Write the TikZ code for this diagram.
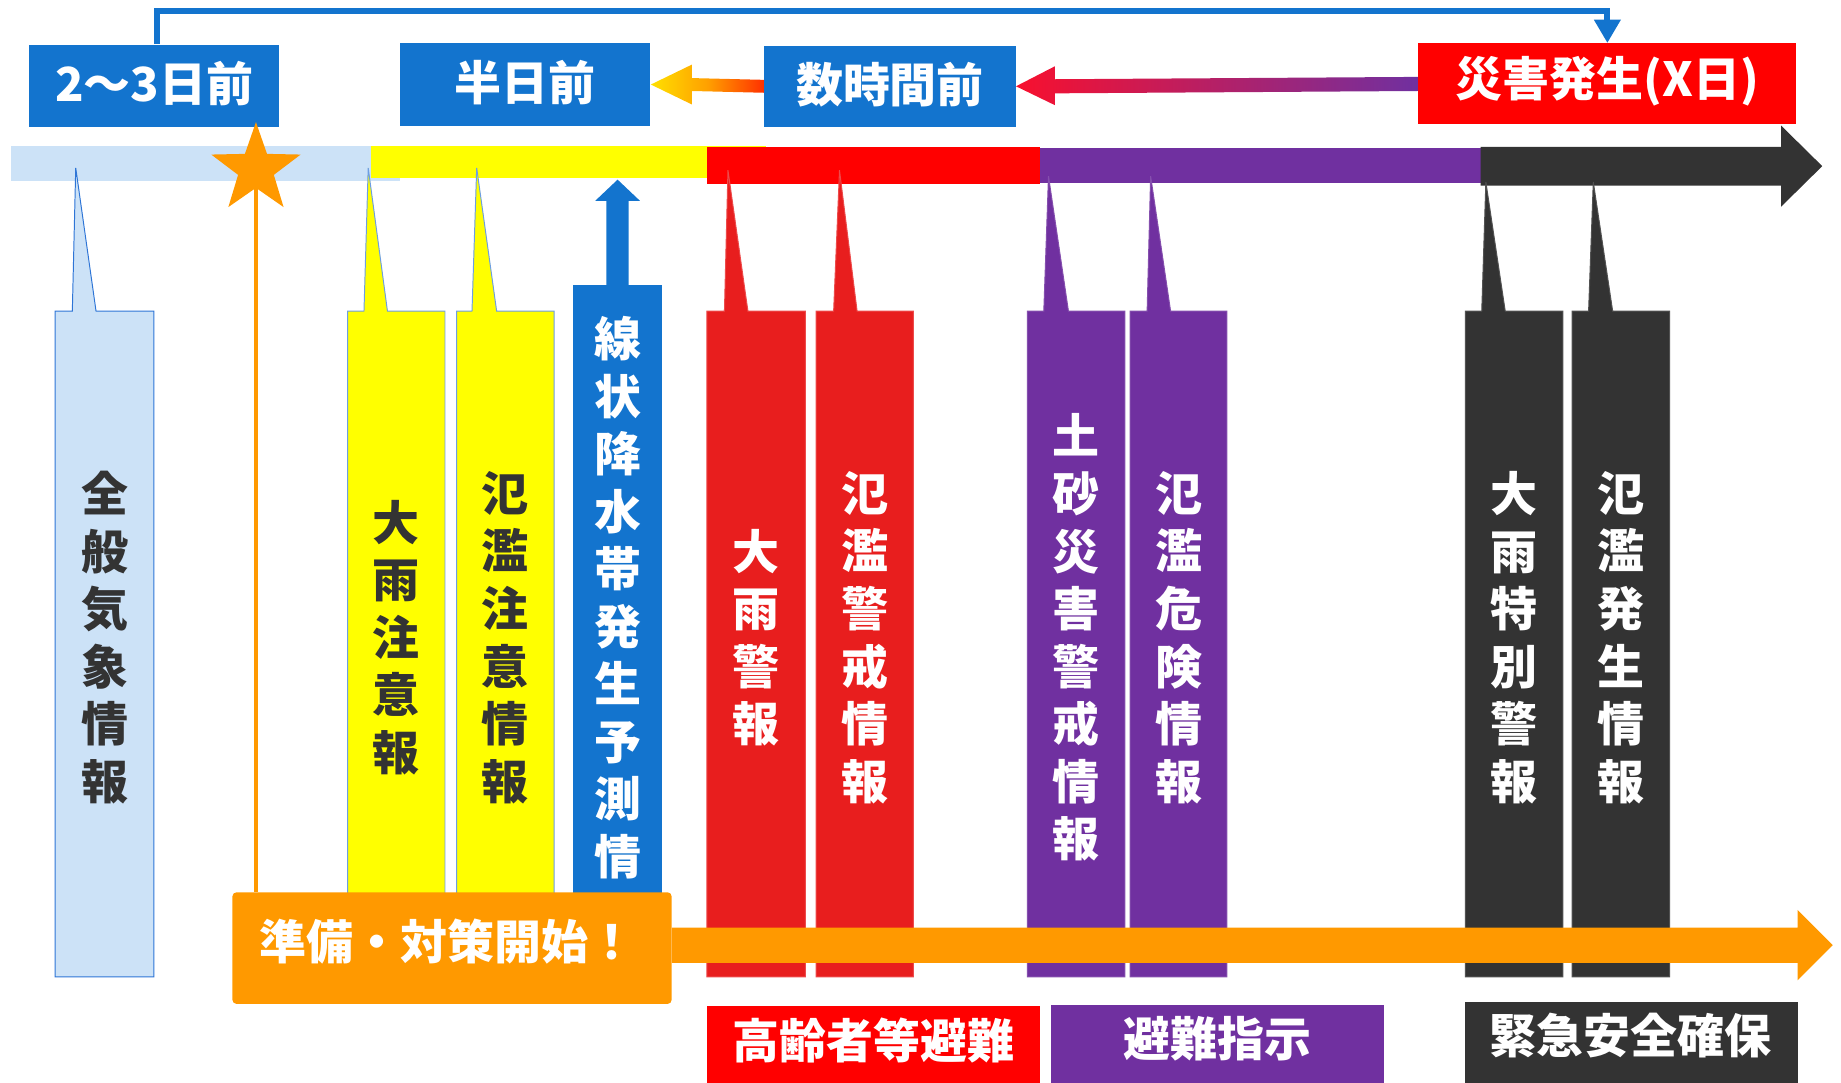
\documentclass[tikz,border=0pt]{standalone}
\usepackage{fontspec}
\setmainfont{Noto Sans CJK JP}
\usetikzlibrary{arrows.meta,shapes.geometric,calc,fit}
\definecolor{blueC}{HTML}{1374CE}
\definecolor{lblue}{HTML}{CCE2F7}
\definecolor{lbord}{HTML}{2E75D6}
\definecolor{yel}{HTML}{FFFF00}
\definecolor{redbar}{HTML}{FF0000}
\definecolor{redcol}{HTML}{E81E1E}
\definecolor{purp}{HTML}{7030A0}
\definecolor{darkC}{HTML}{333333}
\definecolor{oran}{HTML}{FF9900}
\definecolor{gyel}{HTML}{FFE000}
\definecolor{gora}{HTML}{FFA000}
\definecolor{gred}{HTML}{FF3000}
\definecolor{gpink}{HTML}{F8102E}
\newcommand\callout[9]{\filldraw[fill=#8, draw=#9, line width=0.5pt] (#1,265) -- (#3,265) -- (#4,#5) -- (#6,265) -- (#2,265) -- (#2,#7) -- (#1,#7) -- cycle;}
\begin{document}
\begin{tikzpicture}[x=0.6pt,y=-0.6pt,
  lbl/.style={font=\fontsize{24}{28}\selectfont\bfseries, text=white, inner sep=0pt},
  vtxt/.style={font=\fontsize{24}{29.4}\selectfont\bfseries, align=center, inner sep=0pt},
  fbox/.style={inner sep=0pt, draw=none},
]
\useasboundingbox (0,0) rectangle (1568,922);

% top boxes
\node[fbox, fill=blueC, fit={(25,38)(238,108)}] (t1) {};
\node[fbox, fill=blueC, fit={(341,37)(554,107)}] (t2) {};
\node[fbox, fill=blueC, fit={(651,39)(865,108)}] (t3) {};
\node[fbox, fill=redbar, fit={(1208,37)(1530,106)}] (t4) {};
\node[lbl] (t1l) at ($(t1.center)+(0,-2)$) {2〜3日前};
\node[lbl] (t2l) at ($(t2.center)+(0,-2)$) {半日前};
\node[lbl] (t3l) at ($(t3.center)+(0,-1)$) {数時間前};
\node[lbl] (t4l) at ($(t4.center)+(0,-2)$) {災害発生(X日)};

% top bracket
\draw[blueC, line width=3pt, -{Triangle[width=13pt,length=12pt]}]
  ($(t1.north)+(2,0)$) |- ($(t4.north)+(0,-27)$) -- (t4.north);

% gradient arrows
\shade[left color=gyel, right color=gred, middle color=gora]
  (t2.east) -- ++(35,-17) -- ++(0,11.5) -- ($(t3.west)+(0,-5.5)$) -- ($(t3.west)+(0,5.5)$)
  -- ($(t2.east)+(35,5.5)$) -- ++(0,11.5) -- cycle;
\shade[left color=gpink, right color=purp]
  (t3.east) -- ++(33,-17) -- ++(0,11) -- ($(t4.west)+(0,-6)$) -- ($(t4.west)+(0,6)$)
  -- ($(t3.east)+(33,6)$) -- ++(0,10) -- cycle;

% timeline
\fill[lblue] (9,124) rectangle (341,154);
\fill[yel] (316,124) rectangle (652,152);
\fill[redbar] (602,125) rectangle (886,156.5);
\fill[purp] (886,126) rectangle (1262,156);
\fill[darkC] (1261,125) -- (1517,125) -- (1517,107) -- (1552,141.5) -- (1517,176) -- (1517,158) -- (1261,158) -- cycle;

% callouts
\callout{47}{131}{61.6}{64.5}{143}{81.8}{832}{lblue}{lbord}
\callout{296}{379}{310}{313.6}{143}{330}{820}{yel}{lbord!70}
\callout{389}{472}{402}{406}{143}{423}{820}{yel}{lbord!70}
\callout{602}{686}{617}{620}{145}{637}{832}{redcol}{redcol!80}
\callout{695}{778}{710}{715}{145}{730}{832}{redcol}{redcol!80}
\callout{875}{958}{889}{893}{150}{910}{832}{purp}{purp!85}
\callout{962.5}{1045}{977}{980}{150}{997}{832}{purp}{purp!85}
\callout{1248}{1331}{1262}{1265.5}{155}{1282}{832}{darkC}{darkC!85}
\callout{1339}{1422}{1353}{1357}{155}{1373.5}{832}{darkC}{darkC!85}

% blue column with up arrow
\fill[blueC] (488,243) rectangle (564,820);
\fill[blueC] (516.5,243) -- (516.5,171) -- (507,171) -- (526,153) -- (545,171) -- (535.5,171) -- (535.5,243) -- cycle;

% column texts
\node[vtxt, text=darkC] (c1) at (89,543) {全\\般\\気\\象\\情\\報};
\node[vtxt, text=darkC] (c2) at (337.5,543) {大\\雨\\注\\意\\報};
\node[vtxt, text=darkC] (c3) at (430.5,543) {氾\\濫\\注\\意\\情\\報};
\node[vtxt, text=white] (c4) at (526,509) {線\\状\\降\\水\\帯\\発\\生\\予\\測\\情};
\node[vtxt, text=white] (c5) at (644,543) {大\\雨\\警\\報};
\node[vtxt, text=white] (c6) at (736.5,543) {氾\\濫\\警\\戒\\情\\報};
\node[vtxt, text=white] (c7) at (916.5,543) {土\\砂\\災\\害\\警\\戒\\情\\報};
\node[vtxt, text=white] (c8) at (1004,543) {氾\\濫\\危\\険\\情\\報};
\node[vtxt, text=white] (c9) at (1289.5,543) {大\\雨\\特\\別\\警\\報};
\node[vtxt, text=white] (c10) at (1380.5,543) {氾\\濫\\発\\生\\情\\報};

% orange box, star, line, arrow
\node[fbox, fill=oran, rounded corners=2pt, fit={(198,760)(572,855)}] (ob) {};
\node[lbl] (obl) at (381,802) {準備・対策開始！};
\node[star, star points=5, star point ratio=2.5, fill=oran, minimum size=80*0.6pt, inner sep=0pt] (star) at (218,144) {};
\draw[oran, line width=2pt] (star.center) -- (star.center |- ob.north);
\fill[oran] (ob.east |- 0,790) -- (1531,790) -- (1531,775) -- (1561,805) -- (1531,835) -- (1531,820) -- (ob.east |- 0,820) -- cycle;

% bottom labels
\node[fbox, fill=redbar, fit={(602,857)(886,922)}] (b1) {};
\node[fbox, fill=purp, fit={(895,856)(1179,922)}] (b2) {};
\node[fbox, fill=darkC, fit={(1248,853.5)(1531,922)}] (b3) {};
\node[lbl] (b1l) at (744,886) {高齢者等避難};
\node[lbl] (b2l) at (1037,885) {避難指示};
\node[lbl] (b3l) at (1389,882) {緊急安全確保};
\end{tikzpicture}
\end{document}
